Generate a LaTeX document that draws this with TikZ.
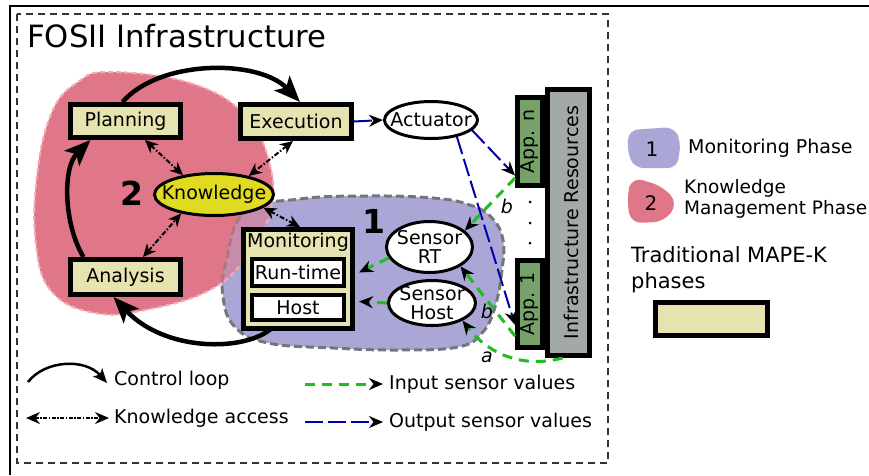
\documentclass[tikz,border=0pt]{standalone}
\usepackage{fontspec}
\setmainfont{DejaVu Sans}
\usetikzlibrary{shapes.geometric,arrows.meta,calc}
\definecolor{khaki}{RGB}{229,228,176}
\definecolor{pinkb}{RGB}{224,119,137}
\definecolor{pinkl}{RGB}{246,172,184}
\definecolor{purp}{RGB}{170,167,214}
\definecolor{greyb}{RGB}{118,118,118}
\definecolor{kyel}{RGB}{224,219,33}
\definecolor{appg}{RGB}{118,162,106}
\definecolor{infg}{RGB}{163,170,166}
\definecolor{ingreen}{RGB}{30,190,30}
\definecolor{outblue}{RGB}{0,0,175}
\newcommand{\fsz}[2]{\fontsize{#1}{#2}\selectfont}
\begin{document}
\begin{tikzpicture}[x=1pt,y=-1pt,
  mape/.style={draw=black,line width=5pt,fill=khaki,inner sep=0pt,font=\fsz{19}{22}},
  subbox/.style={draw=black,line width=4pt,fill=white,inner sep=0pt,font=\fsz{19}{22}},
  sens/.style={ellipse,draw=black,line width=3pt,fill=white,inner sep=0pt},
  appbox/.style={draw=black,line width=5pt,fill=appg,inner sep=0pt},
  rtext/.style={rotate=90,inner sep=0pt,font=\fsz{19}{22}},
  ctrl/.style={line width=4.5pt,-{Stealth[length=26pt,width=21pt,inset=6pt]}},
  kacc/.style={line width=2pt,dash pattern=on 5pt off 2pt on 1.5pt off 2pt,
     {Stealth[length=13pt,width=12pt]}-{Stealth[length=13pt,width=12pt]}},
  outp/.style={line width=2pt,draw=outblue,dash pattern=on 18pt off 5pt,
     -{Stealth[length=14pt,width=12pt,color=black]}},
  inp/.style={line width=3pt,draw=ingreen,dash pattern=on 10pt off 7pt,
     -{Stealth[length=14pt,width=12pt,color=black]}},
  lbl/.style={inner sep=0pt,font=\fsz{19}{22}},
  two/.style={inner sep=0pt,align=center,font=\fsz{19}{19}},
  lab/.style={inner sep=0pt,font=\fsz{19}{22}\itshape},
  bignum/.style={inner sep=0pt,font=\fsz{33}{36}\bfseries}
]
\useasboundingbox (0,0) rectangle (869,475);
% frames
\draw[line width=2pt] (10,475) -- (10,6) -- (869,6);
\draw[line width=1.2pt,draw=black!80,dash pattern=on 7pt off 5pt] (17,14) rectangle (608,463);
\node[anchor=west,inner sep=0pt,font=\fsz{30.7}{34}] (title) at (27,36) {FOSII Infrastructure};

% blobs
\fill[pinkb] plot[smooth cycle,tension=0.7] coordinates {(110,72) (190,83) (245,115) (270,165) (270,212) (248,255) (210,290) (145,310) (95,313) (52,292) (36,245) (37,175) (52,112) (78,82)};
\filldraw[fill=purp,draw=greyb,line width=3pt,dash pattern=on 8pt off 4pt] plot[smooth cycle,tension=0.7] coordinates {(245,212) (300,199) (367,196) (433,198) (470,205) (492,218) (503,240) (502,270) (495,307) (482,333) (458,347) (400,350) (333,348) (268,343) (235,327) (223,297) (226,262)};
\filldraw[fill=pinkb,fill opacity=0.55,draw=pinkl,line width=2pt,dash pattern=on 5pt off 3pt] plot[smooth cycle,tension=0.7] coordinates {(110,72) (190,83) (245,115) (270,165) (270,212) (248,255) (210,290) (145,310) (95,313) (52,292) (36,245) (37,175) (52,112) (78,82)};
\node[bignum] (two) at (132,193) {2};
\node[bignum] (one) at (374,221) {1};

% MAPE-K nodes
\node[mape,minimum width=110pt,minimum height=33pt] (plan) at (125.5,121) {Planning};
\node[mape,minimum width=111pt,minimum height=34pt] (exec) at (296,121.5) {Execution};
\node[mape,minimum width=110pt,minimum height=35pt] (ana) at (125.5,277) {Analysis};

% control loop arrows
\draw[ctrl] ([xshift=-3pt]plan.north) .. controls (160,59) and (259,59) .. ([xshift=4pt]exec.north);
\draw[ctrl] ([xshift=-42pt]ana.north) .. controls (64,225) and (62,168) .. ([xshift=-35pt]plan.south);
\coordinate (monout) at (272,328);
\draw[ctrl] (monout) .. controls (245,352) and (165,352) .. ([xshift=-12pt]ana.south);

\node[mape,minimum width=109pt,minimum height=99pt] (mon) at (298,279) {};
\node[lbl] (montxt) at (298,242) {Monitoring};
\node[subbox,minimum width=92pt,minimum height=27pt] (rt) at (298,272.5) {Run-time};
\node[subbox,minimum width=92pt,minimum height=25pt] (host) at (298,307.5) {Host};

\node[ellipse,draw=black,line width=3pt,fill=kyel,minimum width=119pt,minimum height=42pt,inner sep=0pt] (know) at (214,194.5) {};
\node[lbl] (knowtxt) at (know) {Knowledge};

% knowledge access
\draw[kacc] ([xshift=19.5pt]plan.south) -- (know.148);
\draw[kacc] ([xshift=-3pt]exec.south) -- (know.28);
\draw[kacc] ([xshift=17.5pt]ana.north) -- (know.210);
\draw[kacc] (know.-15) -- ([xshift=2pt]mon.north);

% actuator, sensors
\node[sens,minimum width=93pt,minimum height=37pt] (act) at (431,120) {};
\node[lbl] (acttxt) at (act) {Actuator};
\node[sens,minimum width=86pt,minimum height=51pt] (srt) at (429.5,247) {};
\node[two] (srttxt) at (srt) {Sensor\\RT};
\node[sens,minimum width=87pt,minimum height=45pt] (shost) at (432,303) {};
\node[two] (shosttxt) at (shost) {Sensor\\Host};

% apps and infrastructure
\node[appbox,minimum width=25pt,minimum height=88pt] (appn) at (530,141.5) {};
\node[rtext] (appntxt) at (appn) {App. n};
\node[appbox,minimum width=25pt,minimum height=87pt] (app1) at (530,304) {};
\node[rtext] (app1txt) at (app1) {App. 1};
\node[draw=black,line width=5pt,fill=infg,inner sep=0pt,minimum width=42pt,minimum height=266pt] (infra) at (568.5,222.5) {};
\node[rtext] (infratxt) at ([xshift=3pt]infra.center) {Infrastructure Resources};
\fill (530,202) circle (1.5pt);
\fill (530,223) circle (1.5pt);
\fill (530,243) circle (1.5pt);

% output (blue)
\draw[outp] (exec.east) -- (act.west);
\draw[outp] (act.-14) -- ([yshift=12.5pt]appn.south west);
\draw[outp] (act.-33) -- ([yshift=25pt]app1.south west);

% input (green)
\draw[inp] ([yshift=10pt]appn.south west) -- (srt.25);
\draw[inp] ([yshift=14pt]app1.south west) -- (srt.-32);
\draw[inp] ([xshift=-6pt]infra.south) .. controls (525,368) and (490,356) .. (shost.-30);
\draw[inp] (srt.195) -- ($(rt.east -| mon.east)+(4,0)$);
\draw[inp] (shost.west) -- ($(host.east -| mon.east)+(4,-6)$);
\node[lab] (lb1) at (507,206) {b};
\node[lab] (lb2) at (487,311) {b};
\node[lab] (la) at (487,357) {a};

% bottom legend
\coordinate (cl1) at (28,382);
\coordinate (cl2) at (107,383);
\draw[line width=2.5pt,-{Stealth[length=14pt,width=12pt,inset=3pt]}] (cl1) .. controls (45,360) and (85,358) .. (cl2);
\node[lbl,anchor=west] (cltxt) at (114,380) {Control loop};
\coordinate (ka1) at (26,418);
\coordinate (ka2) at (109,418);
\draw[line width=1.5pt,dash pattern=on 4pt off 1.5pt on 1.5pt off 1.5pt,{Stealth[length=14pt,width=12pt]}-{Stealth[length=14pt,width=12pt]}] (ka1) -- (ka2);
\node[lbl,anchor=west] (katxt) at (114,418) {Knowledge access};
\coordinate (in1) at (305,384);
\coordinate (in2) at (383,384);
\draw[inp] (in1) -- (in2);
\node[lbl,anchor=west] (intxt) at (389,384) {Input sensor values};
\coordinate (ou1) at (305,422);
\coordinate (ou2) at (383,422);
\draw[outp] (ou1) -- (ou2);
\node[lbl,anchor=west] (outxt) at (389,422) {Output sensor values};

% right legend
\fill[purp,rounded corners=9pt] (629,130) -- (674,127) -- (681,142) -- (677,168) -- (634,168) -- (627,150) -- cycle;
\node[inner sep=0pt,font=\fsz{20}{22}] (l1) at (652,149) {1};
\node[lbl,anchor=west] (l1txt) at (688,148) {Monitoring Phase};
\fill[pinkb,rounded corners=11pt] (632,177) -- (662,186) -- (678,203) -- (664,222) -- (630,223) -- (627,195) -- cycle;
\node[inner sep=0pt,font=\fsz{20}{22}] (l2) at (651,203) {2};
\node[inner sep=0pt,anchor=west,align=left,font=\fsz{18.5}{21}] (l2txt) at (684,199) {Knowledge\\Management Phase};
\node[inner sep=0pt,anchor=west,align=left,font=\fsz{21}{26}] (tradtxt) at (631,270) {Traditional MAPE-K\\phases};
\node[mape,minimum width=112pt,minimum height=33pt] (legbox) at (711.5,319) {};
\end{tikzpicture}
\end{document}
